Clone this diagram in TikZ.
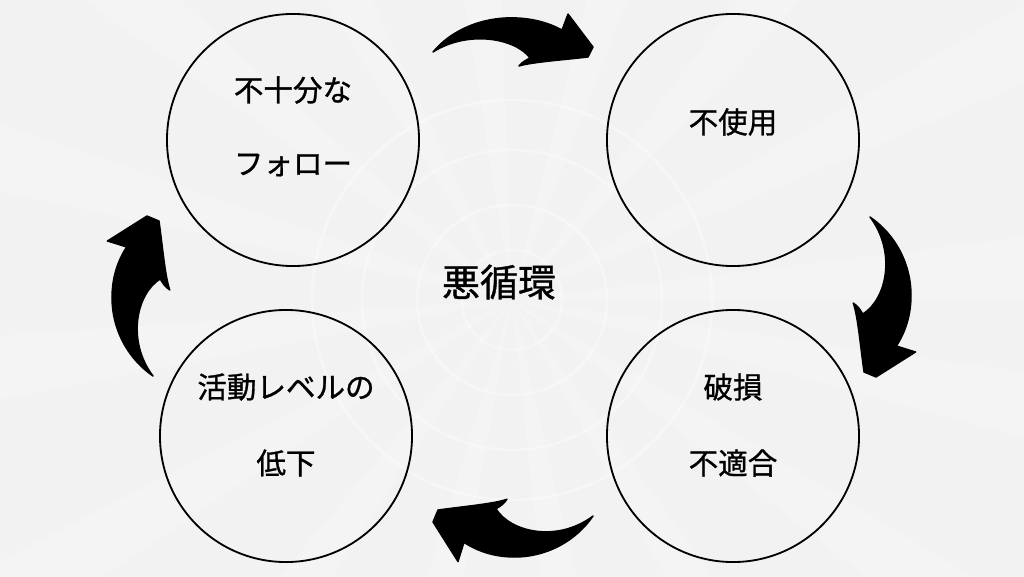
\documentclass[tikz,border=0pt]{standalone}
\usepackage{fontspec}
\newfontfamily\jp[FakeBold=1]{Noto Sans CJK JP}
\definecolor{bggray}{HTML}{F2F2F2}
\tikzset{
 ring/.style={circle,draw=black,line width=1.3pt,minimum size=6.3cm,inner sep=0pt},
 lbl/.style={font=\jp\fontsize{21}{25}\selectfont,inner sep=0pt},
 brushfill/.style={fill=black,draw=black,line width=1pt,line join=round},
 ray/.style={white,opacity=.22},
}
% curved brush arrow, tail at (-80,0), tip at (80,0)
\newcommand\brusharrow[3]{%
\begin{scope}[shift={#1},rotate=#2,yscale=#3]
\fill[brushfill] (-80,0) .. controls (-62,22) and (-30,36) .. (5,34)
 .. controls (25,33) and (40,27) .. (49,22) -- (55,38) -- (80,5) -- (75,-5)
 .. controls (50,-8) and (20,-10) .. (6,-14)
 .. controls (9,-10) and (13,-8) .. (17,-6)
 .. controls (2,14) and (-45,22) .. (-80,0) -- cycle ;
\end{scope}}

\begin{document}
\begin{tikzpicture}[x=0.025cm,y=0.025cm]
\useasboundingbox (0,0) rectangle (1024,-577) ;
\fill [bggray] (0,0) rectangle (1024,-577) ;
% background
\begin{scope}
\clip (0,0) rectangle (1024,-577) ;
\foreach \a in {0,23,...,350}
 \fill [ray] (512,-300) -- +(\a:900) -- +(\a+7:900) -- cycle ;
\foreach \r in {50,95,150,200}
 \draw [white,opacity=.35,line width=2pt] (512,-300) circle (\r) ;
\end{scope}
% circles
\node [ring] (follow) at (293,-140) {} ;
\node [ring] (unused) at (733,-140) {} ;
\node [ring] (broken) at (733,-436) {} ;
\node [ring] (lowact) at (286,-436) {} ;
% texts
\node [lbl] (followa) at (293,-90) {不十分な} ;
\node [lbl] (followb) at (293,-165) {フォロー} ;
\node [lbl] (unuseda) at (733,-122) {不使用} ;
\node [lbl] (brokena) at (733,-387) {破損} ;
\node [lbl] (brokenb) at (733,-463) {不適合} ;
\node [lbl] (lowacta) at (286,-387) {活動レベルの} ;
\node [lbl] (lowactb) at (286,-463) {低下} ;
\node [lbl,font=\jp\fontsize{27}{31}\selectfont] (vicious) at (499,-282) {悪循環} ;
% arrows
\brusharrow{(513,-52)}{0}{1}
\brusharrow{(870,-297)}{-90}{1.2}
\brusharrow{(513,-516)}{180}{1.2}
\brusharrow{(153,-296)}{90}{1.2}
\end{tikzpicture}
\end{document}
